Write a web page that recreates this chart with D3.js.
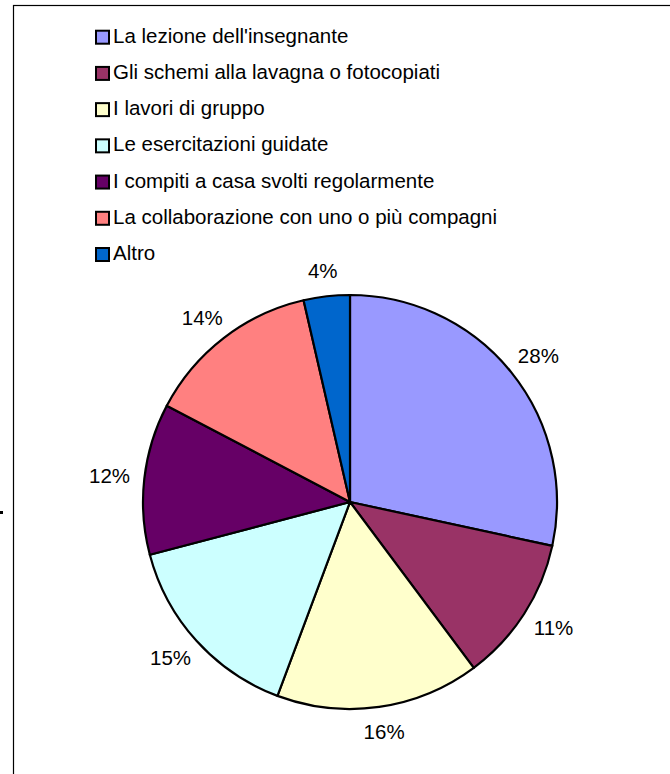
<!DOCTYPE html>
<html><head><meta charset="utf-8">
<script src="https://cdn.jsdelivr.net/npm/d3@7"></script>
<style>html,body{margin:0;padding:0;background:#fff;}svg{display:block;}</style>
</head><body>
<svg id="c" width="670" height="774"></svg>
<script>
const categories = [
  "La lezione dell'insegnante",
  "Gli schemi alla lavagna o fotocopiati",
  "I lavori di gruppo",
  "Le esercitazioni guidate",
  "I compiti a casa svolti regolarmente",
  "La collaborazione con uno o più compagni",
  "Altro"
];
const values = [28.4, 11.4, 15.9, 15.2, 11.8, 13.7, 3.6];
const colors = ["#9999FF", "#993366", "#FFFFCC", "#CCFFFF", "#660066", "#FF8080", "#0066CC"];

const svg = d3.select("#c");
const font = "'Liberation Sans', Arial, sans-serif";

// frame
svg.append("rect").attr("x", 13.5).attr("y", 5.5).attr("width", 700).attr("height", 800)
  .attr("fill", "#fff").attr("stroke", "#000").attr("stroke-width", 1.2);
svg.append("rect").attr("x", 0).attr("y", 511).attr("width", 3).attr("height", 3).attr("fill", "#000");

// legend
const lg = svg.append("g");
const rowY = d3.scaleLinear().domain([0, 6]).range([42.7, 260]);
categories.forEach((c, i) => {
  const y = rowY(i);
  lg.append("rect").attr("x", 96).attr("y", y - 12).attr("width", 13).attr("height", 13)
    .attr("fill", colors[i]).attr("stroke", "#000").attr("stroke-width", 2);
  lg.append("text").attr("x", 113).attr("y", y).text(c)
    .attr("font-family", font).attr("font-size", 20.5).attr("fill", "#000");
});

// pie
const cx = 350, cy = 502, r = 207;
const pie = d3.pie().sort(null).value(d => d)(values);
const arc = d3.arc().innerRadius(0).outerRadius(r);
const g = svg.append("g").attr("transform", `translate(${cx},${cy})`);
g.selectAll("path").data(pie).join("path")
  .attr("d", arc).attr("fill", (d, i) => colors[i])
  .attr("stroke", "#000").attr("stroke-width", 2.2).attr("stroke-linejoin", "round");

const lr = r + 18;
g.selectAll("text.lab").data(pie).join("text").attr("class", "lab")
  .each(function(d) {
    const a = (d.startAngle + d.endAngle) / 2;
    const s = Math.sin(a), co = Math.cos(a);
    const t = Math.round(d.value) + "%";
    const x = (lr + 17) * s;
    const y = -(lr + 7) * co;
    d3.select(this).attr("x", x).attr("y", y + 7).text(t);
  })
  .attr("text-anchor", "middle")
  .attr("font-family", font).attr("font-size", 20.5).attr("fill", "#000");
</script>
</body></html>
